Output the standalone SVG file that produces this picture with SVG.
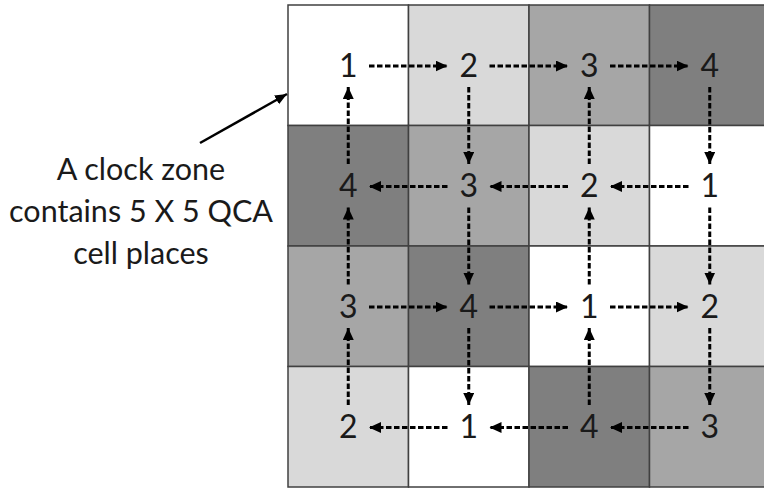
<svg xmlns="http://www.w3.org/2000/svg" width="764" height="489" viewBox="0 0 764 489">
<style>
.c{stroke:#404040;stroke-width:1.5}
.w{fill:#ffffff}.l{fill:#d9d9d9}.m{fill:#a6a6a6}.d{fill:#7f7f7f}
.n{font-family:Lato,"Liberation Sans",sans-serif;font-size:32px;fill:#1a1a1a;text-anchor:middle}
.lab{font-family:Lato,"Liberation Sans",sans-serif;font-size:30.5px;fill:#1a1a1a;text-anchor:middle}
.a{stroke:#000;stroke-width:3;stroke-dasharray:5.5 2.5;fill:none;marker-end:url(#ah)}
</style>
<defs>
<marker id="ah" markerUnits="userSpaceOnUse" markerWidth="13" markerHeight="12" refX="12" refY="5.5" orient="auto">
<path d="M0,0 L12,5.5 L0,11 z" fill="#000"/>
</marker>
<marker id="ah2" markerUnits="userSpaceOnUse" markerWidth="14" markerHeight="12" refX="12" refY="5" orient="auto">
<path d="M0,0 L12,5 L0,10 z" fill="#000"/>
</marker>
</defs>
<rect width="764" height="489" fill="#fff"/>
<g id="cell-r1c1"><rect class="c w" x="288" y="5" width="120.5" height="120.5"/><text class="n" x="348.25" y="76.5">1</text></g>
<g id="cell-r1c2"><rect class="c l" x="408.5" y="5" width="120.5" height="120.5"/><text class="n" x="468.75" y="76.5">2</text></g>
<g id="cell-r1c3"><rect class="c m" x="529" y="5" width="120.5" height="120.5"/><text class="n" x="589.25" y="76.5">3</text></g>
<g id="cell-r1c4"><rect class="c d" x="649.5" y="5" width="120.5" height="120.5"/><text class="n" x="709.75" y="76.5">4</text></g>
<g id="cell-r2c1"><rect class="c d" x="288" y="125.5" width="120.5" height="120.5"/><text class="n" x="348.25" y="197">4</text></g>
<g id="cell-r2c2"><rect class="c m" x="408.5" y="125.5" width="120.5" height="120.5"/><text class="n" x="468.75" y="197">3</text></g>
<g id="cell-r2c3"><rect class="c l" x="529" y="125.5" width="120.5" height="120.5"/><text class="n" x="589.25" y="197">2</text></g>
<g id="cell-r2c4"><rect class="c w" x="649.5" y="125.5" width="120.5" height="120.5"/><text class="n" x="709.75" y="197">1</text></g>
<g id="cell-r3c1"><rect class="c m" x="288" y="246" width="120.5" height="120.5"/><text class="n" x="348.25" y="317.5">3</text></g>
<g id="cell-r3c2"><rect class="c d" x="408.5" y="246" width="120.5" height="120.5"/><text class="n" x="468.75" y="317.5">4</text></g>
<g id="cell-r3c3"><rect class="c w" x="529" y="246" width="120.5" height="120.5"/><text class="n" x="589.25" y="317.5">1</text></g>
<g id="cell-r3c4"><rect class="c l" x="649.5" y="246" width="120.5" height="120.5"/><text class="n" x="709.75" y="317.5">2</text></g>
<g id="cell-r4c1"><rect class="c l" x="288" y="366.5" width="120.5" height="120.5"/><text class="n" x="348.25" y="438">2</text></g>
<g id="cell-r4c2"><rect class="c w" x="408.5" y="366.5" width="120.5" height="120.5"/><text class="n" x="468.75" y="438">1</text></g>
<g id="cell-r4c3"><rect class="c d" x="529" y="366.5" width="120.5" height="120.5"/><text class="n" x="589.25" y="438">4</text></g>
<g id="cell-r4c4"><rect class="c m" x="649.5" y="366.5" width="120.5" height="120.5"/><text class="n" x="709.75" y="438">3</text></g>
<g id="label">
<text class="lab" x="141" y="180">A clock zone</text>
<text class="lab" x="141" y="222">contains 5 X 5 QCA</text>
<text class="lab" x="141" y="264">cell places</text>
</g>
<g id="connectors">
<line x1="200" y1="143" x2="287" y2="94" stroke="#000" stroke-width="2.5" marker-end="url(#ah2)"/>
<line class="a" x1="369" y1="66" x2="447.5" y2="66"/>
<line class="a" x1="489.5" y1="66" x2="568" y2="66"/>
<line class="a" x1="610" y1="66" x2="688.5" y2="66"/>
<line class="a" x1="709.75" y1="87" x2="709.75" y2="164"/>
<line class="a" x1="709.75" y1="207.5" x2="709.75" y2="284.5"/>
<line class="a" x1="709.75" y1="328" x2="709.75" y2="405"/>
<line class="a" x1="688.5" y1="186.5" x2="610" y2="186.5"/>
<line class="a" x1="568" y1="186.5" x2="489.5" y2="186.5"/>
<line class="a" x1="447.5" y1="186.5" x2="369" y2="186.5"/>
<line class="a" x1="348.25" y1="164" x2="348.25" y2="87"/>
<line class="a" x1="348.25" y1="284.5" x2="348.25" y2="207.5"/>
<line class="a" x1="348.25" y1="405" x2="348.25" y2="328"/>
<line class="a" x1="468.75" y1="87" x2="468.75" y2="164"/>
<line class="a" x1="468.75" y1="207.5" x2="468.75" y2="284.5"/>
<line class="a" x1="468.75" y1="328" x2="468.75" y2="405"/>
<line class="a" x1="369" y1="307" x2="447.5" y2="307"/>
<line class="a" x1="489.5" y1="307" x2="568" y2="307"/>
<line class="a" x1="610" y1="307" x2="688.5" y2="307"/>
<line class="a" x1="688.5" y1="427.5" x2="610" y2="427.5"/>
<line class="a" x1="568" y1="427.5" x2="489.5" y2="427.5"/>
<line class="a" x1="447.5" y1="427.5" x2="369" y2="427.5"/>
<line class="a" x1="589.25" y1="164" x2="589.25" y2="87"/>
<line class="a" x1="589.25" y1="284.5" x2="589.25" y2="207.5"/>
<line class="a" x1="589.25" y1="405" x2="589.25" y2="328"/>
</g>
</svg>
